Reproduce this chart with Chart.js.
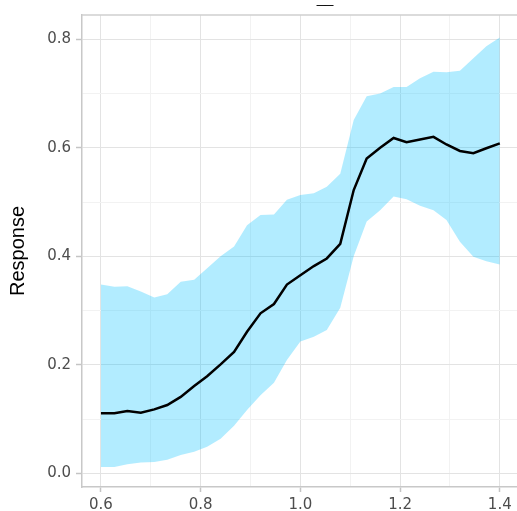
<!DOCTYPE html>
<html>
<head>
<meta charset="utf-8">
<script src="https://cdn.jsdelivr.net/npm/chart.js@4"></script>
<style>
  html, body { margin: 0; padding: 0; background: #fff; }
  #wrap { width: 517px; height: 511px; position: relative; }
</style>
</head>
<body>
<div id="wrap"><canvas id="chart"></canvas></div>
<script>
// x positions of the curve
var xValues = [0.6, 0.627, 0.653, 0.68, 0.707, 0.733, 0.76, 0.787, 0.813, 0.84, 0.867,
    0.893, 0.92, 0.947, 0.973, 1.0, 1.027, 1.053, 1.08, 1.107, 1.133,
    1.16, 1.187, 1.213, 1.24, 1.267, 1.293, 1.32, 1.347, 1.373, 1.4];

// mean response (black line)
var response = [0.111, 0.111, 0.115, 0.112, 0.118, 0.126, 0.141, 0.161, 0.179, 0.201, 0.224,
    0.261, 0.295, 0.312, 0.348, 0.365, 0.382, 0.396, 0.423, 0.522, 0.580,
    0.600, 0.618, 0.610, 0.615, 0.620, 0.606, 0.594, 0.590, 0.599, 0.608];

// ribbon bounds
var upper = [0.348, 0.344, 0.345, 0.335, 0.324, 0.330, 0.353, 0.357, 0.378, 0.400, 0.418,
    0.457, 0.476, 0.477, 0.504, 0.513, 0.516, 0.528, 0.552, 0.651, 0.695,
    0.700, 0.712, 0.712, 0.728, 0.740, 0.739, 0.742, 0.765, 0.787, 0.803];
var lower = [0.012, 0.012, 0.017, 0.020, 0.021, 0.025, 0.034, 0.040, 0.049, 0.064, 0.088,
    0.117, 0.144, 0.167, 0.209, 0.243, 0.252, 0.264, 0.305, 0.400, 0.464,
    0.485, 0.510, 0.505, 0.493, 0.485, 0.467, 0.427, 0.399, 0.391, 0.385];

var xTicks = [0.6, 0.7, 0.8, 0.9, 1.0, 1.1, 1.2, 1.3, 1.4];
var yTicks = [0.0, 0.1, 0.2, 0.3, 0.4, 0.5, 0.6, 0.7, 0.8];
var chartTitle = "__";
var yTitle = "Response";

var tickFont = { family: "'DejaVu Sans', sans-serif", size: 15 };

function toPoints(ys) {
    return xValues.map(function (x, i) { return { x: x, y: ys[i] }; });
}

function isMajor(v) {
    return Math.round(v * 10) % 2 === 0;
}

// top edge of the panel and the small title
var panelExtras = {
    id: "panelExtras",
    afterDraw: function (chart) {
        var ctx = chart.ctx;
        var a = chart.chartArea;
        ctx.save();
        ctx.strokeStyle = "#cfcfcf";
        ctx.lineWidth = 1.5;
        ctx.beginPath();
        ctx.moveTo(a.left, a.top);
        ctx.lineTo(a.right, a.top);
        ctx.stroke();
        ctx.fillStyle = "#000";
        ctx.font = "15px 'Liberation Sans', Arial, sans-serif";
        ctx.textAlign = "center";
        ctx.textBaseline = "alphabetic";
        ctx.fillText(chartTitle, 325, 3);
        ctx.restore();
    }
};

var gridColor = function (c) {
    if (!c.tick) return "#ebebeb";
    return isMajor(c.tick.value) ? "#e3e3e3" : "#f2f2f2";
};
var tickMarkColor = function (c) {
    if (!c.tick) return "#cccccc";
    return isMajor(c.tick.value) ? "#c4c4c4" : "rgba(0,0,0,0)";
};

new Chart(document.getElementById("chart").getContext("2d"), {
    type: "line",
    data: {
        datasets: [
            {
                label: "upper",
                data: toPoints(upper),
                borderWidth: 0,
                pointRadius: 0,
                backgroundColor: "rgba(0,191,255,0.3)",
                fill: "+1",
                order: 2
            },
            {
                label: "lower",
                data: toPoints(lower),
                borderWidth: 0,
                pointRadius: 0,
                backgroundColor: "rgba(0,191,255,0.3)",
                fill: false,
                order: 2
            },
            {
                label: "response",
                data: toPoints(response),
                borderColor: "#000",
                borderWidth: 2.5,
                pointRadius: 0,
                fill: false,
                tension: 0,
                order: 1
            }
        ]
    },
    options: {
        responsive: true,
        maintainAspectRatio: false,
        animation: false,
        layout: { padding: { top: 15, right: 0, left: 0, bottom: 0 } },
        plugins: {
            legend: { display: false },
            tooltip: { enabled: false },
            title: { display: false }
        },
        scales: {
            x: {
                type: "linear",
                min: 0.562,
                max: 1.4345,
                afterBuildTicks: function (scale) {
                    scale.ticks = xTicks.map(function (v) { return { value: v }; });
                },
                afterFit: function (scale) { scale.height = 24; },
                border: { display: true, color: "#c8c8c8", width: 1.5 },
                grid: {
                    color: gridColor,
                    lineWidth: 1,
                    tickLength: 5,
                    tickColor: tickMarkColor,
                    tickWidth: 1.5
                },
                ticks: {
                    autoSkip: false,
                    maxRotation: 0,
                    padding: 4,
                    color: "#4d4d4d",
                    font: tickFont,
                    callback: function (v) { return isMajor(v) ? v.toFixed(1) : ""; }
                }
            },
            y: {
                type: "linear",
                min: -0.025,
                max: 0.8445,
                afterBuildTicks: function (scale) {
                    scale.ticks = yTicks.map(function (v) { return { value: v }; });
                },
                afterFit: function (scale) { scale.width = 82; },
                border: { display: true, color: "#c8c8c8", width: 1.5 },
                grid: {
                    color: gridColor,
                    lineWidth: 1,
                    tickLength: 6,
                    tickColor: tickMarkColor,
                    tickWidth: 1.5
                },
                title: {
                    display: true,
                    text: yTitle,
                    color: "#000",
                    font: { family: "'Liberation Sans', Arial, sans-serif", size: 20 },
                    padding: { top: 6, bottom: 0 }
                },
                ticks: {
                    autoSkip: false,
                    padding: 5,
                    color: "#4d4d4d",
                    font: tickFont,
                    callback: function (v) { return isMajor(v) ? v.toFixed(1) : ""; }
                }
            }
        }
    },
    plugins: [panelExtras]
});
</script>
</body>
</html>
